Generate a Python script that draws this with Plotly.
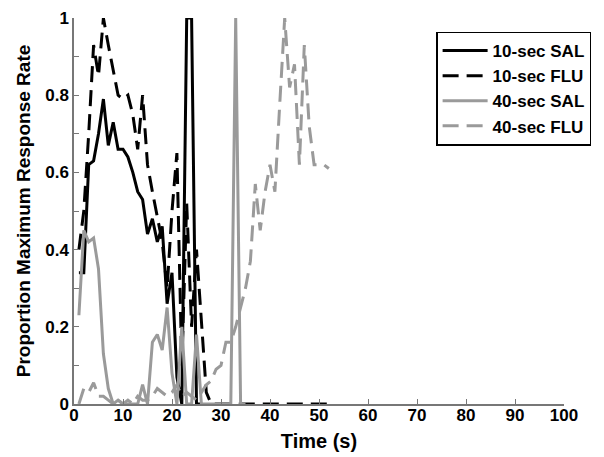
import plotly.graph_objects as go

t_sal10 = list(range(1, 27))
sal10 = [0.34, 0.34, 0.62, 0.63, 0.70, 0.79, 0.67, 0.73, 0.66, 0.66, 0.64, 0.60, 0.55,
         0.53, 0.44, 0.48, 0.42, 0.46, 0.26, 0.34, 0.07, 0.0, 1.0, 1.0, 0.0, 0.0]

t_flu10 = list(range(1, 53))
flu10 = [0.40, 0.50, 0.70, 0.93, 0.85, 1.0, 0.93, 0.86, 0.80, 0.79, 0.80, 0.75, 0.66,
         0.80, 0.62, 0.55, 0.48, 0.42, 0.30, 0.50, 0.65, 0.10, 0.52, 0.20, 0.40, 0.20,
         0.03] + [0.0] * 25

t_sal40 = list(range(1, 36))
sal40 = [0.23, 0.45, 0.42, 0.43, 0.35, 0.13, 0.04, 0.0, 0.01, 0.0, 0.0, 0.0, 0.0, 0.05,
         0.0, 0.16, 0.18, 0.14, 0.25, 0.08, 0.0, 0.20, 0.0, 0.0, 0.18, 0.0, 0.0, 0.0,
         0.0, 0.0, 0.0, 0.0, 1.0, 0.0, 0.0]

t_flu40 = list(range(1, 53))
flu40 = [0.0, 0.04, 0.03, 0.055, 0.02, 0.02, 0.01, 0.0, 0.01, 0.0, 0.01, 0.0, 0.02, 0.01,
         0.01, 0.02, 0.04, 0.03, 0.02, 0.03, 0.05, 0.02, 0.03, 0.02, 0.01, 0.03, 0.05,
         0.06, 0.09, 0.10, 0.16, 0.16, 0.20, 0.25, 0.30, 0.37, 0.57, 0.45, 0.55, 0.62,
         0.55, 0.78, 1.0, 0.82, 0.88, 0.62, 0.93, 0.72, 0.62, 0.62, 0.62, 0.61]

black = '#000000'
gray = '#9a9a9a'
dash = '16px,8px'

fig = go.Figure()
fig.add_trace(go.Scatter(x=t_sal10, y=sal10, mode='lines', name='10-sec SAL',
                         line=dict(color=black, width=3)))
fig.add_trace(go.Scatter(x=t_flu10, y=flu10, mode='lines', name='10-sec FLU',
                         line=dict(color=black, width=3, dash=dash)))
fig.add_trace(go.Scatter(x=t_sal40, y=sal40, mode='lines', name='40-sec SAL',
                         line=dict(color=gray, width=3)))
fig.add_trace(go.Scatter(x=t_flu40, y=flu40, mode='lines', name='40-sec FLU',
                         line=dict(color=gray, width=3, dash=dash)))

fam = 'Liberation Sans, Arial, sans-serif'

# page body has an 8px margin, so the figure is made 8px smaller each way
fig.update_layout(
    width=596, height=449,
    margin=dict(l=66, r=40, t=10, b=53),
    paper_bgcolor='white', plot_bgcolor='white',
    font=dict(family=fam, color='black'),
    showlegend=True,
    legend=dict(x=0.739, y=0.965, xanchor='left', yanchor='top',
                bordercolor='black', borderwidth=1.5, bgcolor='white',
                font=dict(size=17, weight='bold', family=fam),
                itemwidth=45, tracegroupgap=0),
    xaxis=dict(range=[0, 100], tickvals=list(range(0, 101, 10)), ticks='inside',
               ticklen=5, tickcolor='#777', showline=True, linecolor='#777',
               linewidth=1.5, showgrid=False, zeroline=False, automargin=False,
               ticklabelstandoff=-5, ticklabeloverflow='allow',
               tickfont=dict(size=17, weight='bold', family=fam),
               title=dict(text='Time (s)', font=dict(size=20, weight='bold', family=fam),
                          standoff=10)),
    yaxis=dict(range=[0, 1], tickvals=[0, 0.2, 0.4, 0.6, 0.8, 1],
               ticktext=['0', '0.2', '0.4', '0.6', '0.8', '1'],
               ticks='inside', ticklen=5, tickcolor='#777',
               minor=dict(tickvals=[0.1, 0.3, 0.5, 0.7, 0.9], ticks='inside',
                          ticklen=5, tickcolor='#777'),
               showline=True, linecolor='#777', linewidth=1.5,
               showgrid=False, zeroline=False, automargin=False,
               ticklabeloverflow='allow',
               tickfont=dict(size=17, weight='bold', family=fam),
               title=dict(text='Proportion Maximum Response Rate',
                          font=dict(size=19, weight='bold', family=fam),
                          standoff=10)),
)

fig.write_html("out.html")
